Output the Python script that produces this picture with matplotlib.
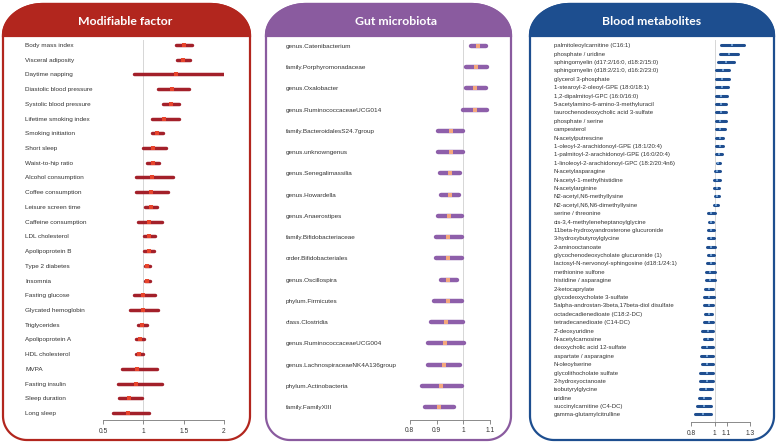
import numpy as np
import matplotlib
matplotlib.use("Agg")
import matplotlib.pyplot as plt
from matplotlib.path import Path
from matplotlib.patches import PathPatch

W, H = 776, 443

# ---- data: modifiable factors ----
names1 = ["Body mass index", "Visceral adiposity", "Daytime napping", "Diastolic blood pressure",
          "Systolic blood pressure", "Lifetime smoking index", "Smoking initiation", "Short sleep",
          "Waist-to-hip ratio", "Alcohol consumption", "Coffee consumption", "Leisure screen time",
          "Caffeine consumption", "LDL cholesterol", "Apolipoprotein B", "Type 2 diabetes", "Insomnia",
          "Fasting glucose", "Glycated hemoglobin", "Triglycerides", "Apolipoprotein A",
          "HDL cholesterol", "MVPA", "Fasting insulin", "Sleep duration", "Long sleep"]
est1 = [1.50, 1.49, 1.40, 1.35, 1.34, 1.26, 1.175, 1.125, 1.12, 1.11, 1.09, 1.10, 1.075,
        1.075, 1.07, 1.05, 1.05, 1.00, 0.99, 0.985, 0.955, 0.95, 0.925, 0.91, 0.82, 0.81]
lo1 = [1.41, 1.42, 0.88, 1.185, 1.25, 1.11, 1.11, 0.99, 1.04, 0.91, 0.91, 1.02, 0.94,
       1.01, 1.01, 1.02, 1.02, 0.885, 0.83, 0.93, 0.91, 0.91, 0.735, 0.68, 0.70, 0.63]
hi1 = [1.60, 1.58, 2.02, 1.57, 1.44, 1.44, 1.24, 1.28, 1.20, 1.37, 1.31, 1.17, 1.23,
       1.14, 1.13, 1.08, 1.08, 1.14, 1.18, 1.04, 1.01, 0.99, 1.17, 1.23, 0.98, 1.065]

# ---- data: gut microbiota ----
names2 = ["genus.Catenibacterium", "family.Porphyromonadaceae", "genus.Oxalobacter",
          "genus.RuminococcaceaeUCG014", "family.BacteroidalesS24.7group", "genus.unknowngenus",
          "genus.Senegalimassilia", "genus.Howardella", "genus.Anaerostipes",
          "family.Bifidobacteriaceae", "order.Bifidobacteriales", "genus.Oscillospira",
          "phylum.Firmicutes", "class.Clostridia", "genus.RuminococcaceaeUCG004",
          "genus.LachnospiraceaeNK4A136group", "phylum.Actinobacteria", "family.FamilyXIII"]
est2 = [1.056, 1.048, 1.044, 1.043, 0.952, 0.952, 0.950, 0.949, 0.948, 0.944, 0.944, 0.944,
        0.941, 0.936, 0.932, 0.927, 0.916, 0.909]
lo2 = [1.029, 1.011, 1.009, 0.999, 0.907, 0.907, 0.914, 0.917, 0.904, 0.898, 0.898, 0.915,
       0.891, 0.878, 0.868, 0.869, 0.845, 0.856]
hi2 = [1.085, 1.087, 1.083, 1.087, 0.999, 1.000, 0.988, 0.983, 0.994, 0.996, 0.996, 0.976,
       0.996, 0.999, 1.001, 0.989, 0.994, 0.964]

# ---- data: blood metabolites ----
names3 = ["palmitoleoylcarnitine (C16:1)", "phosphate / uridine",
          "sphingomyelin (d17:2/16:0, d18:2/15:0)", "sphingomyelin (d18:2/21:0, d16:2/23:0)",
          "glycerol 3-phosphate", "1-stearoyl-2-oleoyl-GPE (18:0/18:1)",
          "1,2-dipalmitoyl-GPC (16:0/16:0)", "5-acetylamino-6-amino-3-methyluracil",
          "taurochenodeoxycholic acid 3-sulfate", "phosphate / serine", "campesterol",
          "N-acetylputrescine", "1-oleoyl-2-arachidonoyl-GPE (18:1/20:4)",
          "1-palmitoyl-2-arachidonoyl-GPE (16:0/20:4)", "1-linoleoyl-2-arachidonoyl-GPC (18:2/20:4n6)",
          "N-acetylasparagine", "N-acetyl-1-methylhistidine", "N-acetylarginine",
          "N2-acetyl,N6-methyllysine", "N2-acetyl,N6,N6-dimethyllysine", "serine / threonine",
          "cis-3,4-methyleneheptanoylglycine", "11beta-hydroxyandrosterone glucuronide",
          "3-hydroxybutyroylglycine", "2-aminooctanoate", "glycochenodeoxycholate glucuronide (1)",
          "lactosyl-N-nervonoyl-sphingosine (d18:1/24:1)", "methionine sulfone",
          "histidine / asparagine", "2-ketocaprylate", "glycodeoxycholate 3-sulfate",
          "5alpha-androstan-3beta,17beta-diol disulfate", "octadecadienedioate (C18:2-DC)",
          "tetradecanedioate (C14-DC)", "2'-deoxyuridine", "N-acetylcarnosine",
          "deoxycholic acid 12-sulfate", "aspartate / asparagine", "N-oleoylserine",
          "glycolithocholate sulfate", "2-hydroxyoctanoate", "isobutyrylglycine", "uridine",
          "succinylcarnitine (C4-DC)", "gamma-glutamylcitrulline"]
lo3 = [1.050, 1.041, 1.027, 1.012, 1.012, 1.010, 1.010, 1.010, 1.010, 1.007, 1.007, 1.010,
       1.012, 1.012, 1.020, 1.001, 0.998, 0.998, 1.001, 0.998, 0.942, 0.948, 0.942, 0.942,
       0.936, 0.942, 0.934, 0.928, 0.925, 0.922, 0.914, 0.914, 0.920, 0.914, 0.897, 0.908,
       0.889, 0.886, 0.889, 0.880, 0.880, 0.880, 0.869, 0.852, 0.830]
hi3 = [1.249, 1.196, 1.165, 1.125, 1.120, 1.111, 1.103, 1.092, 1.092, 1.092, 1.086, 1.072,
       1.072, 1.061, 1.042, 1.041, 1.041, 1.035, 1.033, 1.030, 1.002, 0.990, 0.996, 0.996,
       1.002, 0.996, 0.996, 0.999, 1.002, 0.990, 0.996, 0.990, 0.976, 0.982, 0.985, 0.976,
       0.985, 0.985, 0.982, 0.985, 0.982, 0.979, 0.957, 0.968, 0.968]
est3 = [1.149, 1.118, 1.096, 1.069, 1.066, 1.060, 1.056, 1.051, 1.050, 1.049, 1.046, 1.041,
        1.042, 1.036, 1.031, 1.021, 1.020, 1.017, 1.017, 1.014, 0.972, 0.969, 0.969, 0.969,
        0.969, 0.969, 0.965, 0.963, 0.963, 0.956, 0.955, 0.952, 0.948, 0.948, 0.941, 0.942,
        0.937, 0.935, 0.935, 0.932, 0.931, 0.930, 0.913, 0.910, 0.899]

titles = ["Modifiable factor", "Gut microbiota", "Blood metabolites"]
ticks = [[0.5, 1, 1.5, 2], [0.8, 0.9, 1, 1.1], [0.8, 1, 1.1, 1.3]]
tick_labels = [["0.5", "1", "1.5", "2"], ["0.8", "0.9", "1", "1.1"], ["0.8", "1", "1.1", "1.3"]]

plt.rcParams['font.family'] = ['Liberation Sans', 'DejaVu Sans']

fig = plt.figure(figsize=(W / 100, H / 100), dpi=100)

# overlay in pixel coordinates for the panel frames
bg = fig.add_axes([0, 0, 1, 1], zorder=0)
bg.set_xlim(0, W)
bg.set_ylim(H, 0)
bg.axis('off')


def arc(cx, cy, rx, ry, t0, t1):
    t = np.radians(np.linspace(t0, t1, 30))
    return list(zip(cx + rx * np.cos(t), cy + ry * np.sin(t)))


def box_path(x0, x1, y0, y1, rx, ry, rb):
    v = arc(x0 + rx, y0 + ry, rx, ry, 180, 270) + arc(x1 - rx, y0 + ry, rx, ry, 270, 360)
    v += arc(x1 - rb, y1 - rb, rb, rb, 0, 90) + arc(x0 + rb, y1 - rb, rb, rb, 90, 180)
    v.append(v[0])
    return Path(v, [Path.MOVETO] + [Path.LINETO] * (len(v) - 2) + [Path.CLOSEPOLY])


def header_path(x0, x1, y0, hb, rx, ry):
    v = arc(x0 + rx, y0 + ry, rx, ry, 180, 270) + arc(x1 - rx, y0 + ry, rx, ry, 270, 360)
    v += [(x1, hb), (x0, hb), v[0]]
    return Path(v, [Path.MOVETO] + [Path.LINETO] * (len(v) - 2) + [Path.CLOSEPOLY])


# panel frame specs (pixels)
frames = [(3, 250, 125, "#B2261E"), (266, 511, 396, "#8A5B9F"), (530, 774, 652, "#1D4E8F")]
for (x0, x1, tx, col), title in zip(frames, titles):
    bg.add_patch(PathPatch(box_path(x0, x1, 4, 440, 40, 31, 24), facecolor='white',
                           edgecolor=col, lw=1.6))
    bg.add_patch(PathPatch(header_path(x0, x1, 4, 36, 40, 32), facecolor=col,
                           edgecolor=col, lw=1.6))
    bg.text(tx, 21, title, color='white', fontsize=8.8, fontweight='bold', family='Lato',
            ha='center', va='center')

# forest panels
panels = [
    dict(names=names1, est=est1, lo=lo1, hi=hi1, px=(103, 224), yr=(45, 413), top=40, axis=420,
         lab=25, fs=4.6, bar="#A3202A", pt="#E8452C", lw=2.5, ms=6),
    dict(names=names2, est=est2, lo=lo2, hi=hi2, px=(409.7, 490.3), yr=(45.7, 407.3), top=40,
         axis=419.5, lab=286, fs=4.6, bar="#8E5FAA", pt="#F4A77C", lw=3.2, ms=11),
    dict(names=names3, est=est3, lo=lo3, hi=hi3, px=(691, 750.2), yr=(45.3, 414.5), top=40,
         axis=422, lab=554, fs=4.35, bar="#1F4E8F", pt="#6E9ED3", lw=2.2, ms=4),
]

for p, tk, tl in zip(panels, ticks, tick_labels):
    n = len(p['names'])
    a, b = p['px']
    ax = fig.add_axes([a / W, 1 - p['axis'] / H, (b - a) / W, (p['axis'] - p['top']) / H], zorder=1)
    ax.patch.set_alpha(0)
    dy = (p['yr'][1] - p['yr'][0]) / (n - 1)
    ax.set_xlim(tk[0], tk[-1])
    ax.set_ylim(n - 1 + (p['axis'] - p['yr'][1]) / dy, -(p['yr'][0] - p['top']) / dy)
    y = np.arange(n)
    ax.axvline(1, color="#D6D6D6", lw=0.7, zorder=1)
    ax.hlines(y, p['lo'], p['hi'], colors=p['bar'], lw=p['lw'], capstyle='round', zorder=2)
    ax.scatter(p['est'], y, marker='s', s=p['ms'], color=p['pt'], linewidths=0, zorder=3)
    for s in ['top', 'right', 'left']:
        ax.spines[s].set_visible(False)
    ax.spines['bottom'].set_color('#777777')
    ax.spines['bottom'].set_linewidth(0.6)
    ax.spines['bottom'].set_bounds(tk[0], tk[-1])
    ax.set_xticks(tk)
    ax.set_xticklabels(tl)
    ax.tick_params(axis='x', length=3, width=0.6, color='#777777', pad=2.5,
                   labelsize=4.8, labelcolor='#333333')
    ax.set_yticks(y)
    ax.set_yticklabels(p['names'], fontsize=p['fs'], color='#333333', ha='left')
    ax.tick_params(axis='y', length=0, pad=(a - p['lab']) * 0.72)

fig.savefig("out.png", dpi=100)
